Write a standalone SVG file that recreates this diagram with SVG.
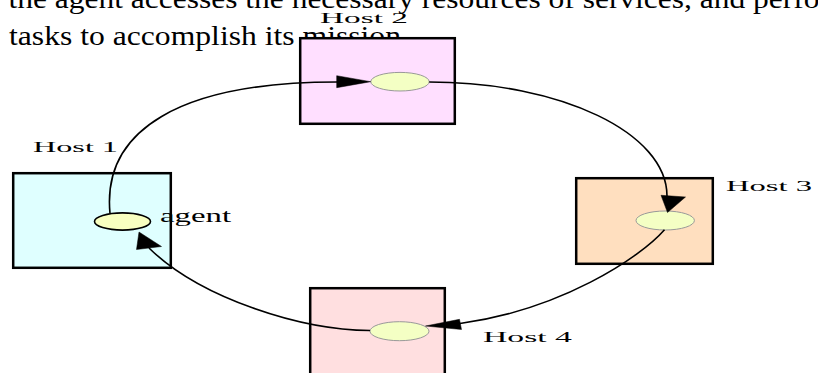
<svg xmlns="http://www.w3.org/2000/svg" width="818" height="373" viewBox="0 0 818 373">
<style>
.hdr{font-family:"Liberation Serif","Times New Roman",serif;font-size:28px;fill:#000}
.lbl{font-family:"Liberation Serif","Times New Roman",serif;font-size:15.5px;fill:#000}
.agt{font-family:"Liberation Serif","Times New Roman",serif;font-size:18px;fill:#000}
.box{stroke:#000;stroke-width:2.5}
.tok{fill:#f4ffc4;stroke:#999;stroke-width:1}
.tok1{fill:#f8ffc0;stroke:#000;stroke-width:1.6}
.edge{fill:none;stroke:#000;stroke-width:1.6}
.ah{fill:#000;stroke:#000;stroke-width:0.5;stroke-linejoin:miter}
</style>
<rect width="818" height="373" fill="#fff"/>
<g id="caption">
<text class="hdr" x="8.5" y="7.5" textLength="811" lengthAdjust="spacingAndGlyphs">the agent accesses the necessary resources of services, and perfo</text>
<text class="hdr" x="9" y="45" textLength="392" lengthAdjust="spacingAndGlyphs">tasks to accomplish its mission</text>
</g>
<g id="host1">
<rect class="box" x="13.2" y="173.2" width="157.6" height="94.6" fill="#dfffff"/>
<ellipse class="tok1" cx="122.5" cy="221.5" rx="28" ry="8.6"/>
<text class="lbl" x="33" y="151.7" textLength="85" lengthAdjust="spacingAndGlyphs">Host 1</text>
<text class="agt" x="160" y="221.7" textLength="71" lengthAdjust="spacingAndGlyphs">agent</text>
</g>
<g id="host2">
<rect class="box" x="300.2" y="38.2" width="154.6" height="85.6" fill="#ffdfff"/>
<ellipse class="tok" cx="400" cy="81.7" rx="29.2" ry="9.3"/>
<text class="lbl" x="320" y="22.5" textLength="88" lengthAdjust="spacingAndGlyphs">Host 2</text>
</g>
<g id="host3">
<rect class="box" x="576.2" y="178.2" width="136.6" height="85.6" fill="#ffdfbf"/>
<ellipse class="tok" cx="665.2" cy="220.5" rx="29.2" ry="9.5"/>
<text class="lbl" x="726" y="190.5" textLength="86" lengthAdjust="spacingAndGlyphs">Host 3</text>
</g>
<g id="host4">
<rect class="box" x="310.2" y="288.2" width="134.6" height="100" fill="#ffdfe0"/>
<ellipse class="tok" cx="399.5" cy="331.2" rx="29.5" ry="9.5"/>
<text class="lbl" x="483" y="342" textLength="89" lengthAdjust="spacingAndGlyphs">Host 4</text>
</g>
<g id="connectors">
<path class="edge" d="M110,213.5 C102,130 180,82 337,82"/>
<polygon class="ah" points="370.7,81.7 336.7,75.7 336.7,87.7"/>
<path class="edge" d="M429.2,82 C561,82 667,133 667,196"/>
<polygon class="ah" points="667.5,212.5 661,195.3 685.5,197"/>
<path class="edge" d="M664.5,229.8 C640,258 560,310 460,323.5"/>
<polygon class="ah" points="425.5,326 459.5,319.3 461.5,329.5"/>
<path class="edge" d="M370,330.5 C300,330 200,298 149,248"/>
<polygon class="ah" points="139,232 136.5,249.5 161.5,246.5"/>
</g>
</svg>
